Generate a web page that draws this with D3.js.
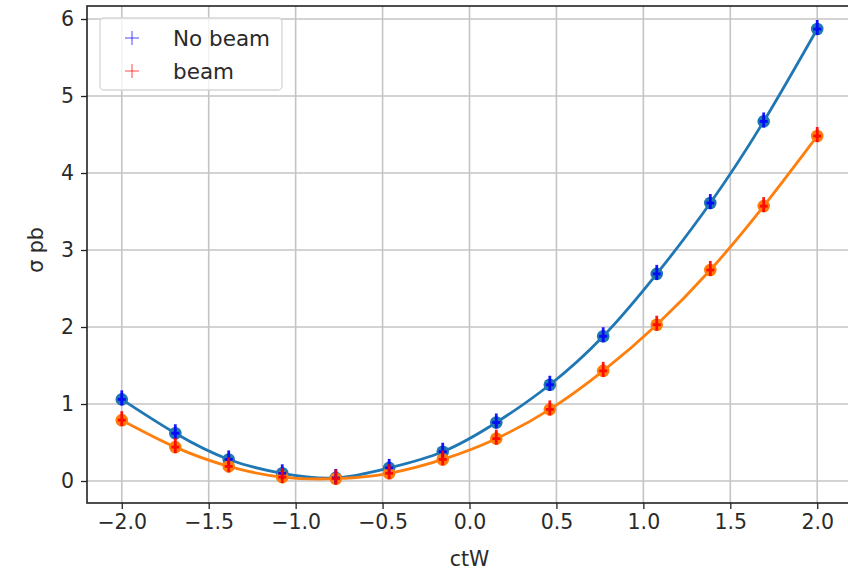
<!DOCTYPE html>
<html>
<head>
<meta charset="utf-8">
<script src="https://cdn.jsdelivr.net/npm/d3@7"></script>
<style>
  html, body { margin: 0; padding: 0; background: #fff; }
  svg { display: block; font-family: "DejaVu Sans", sans-serif; }
</style>
</head>
<body>
<svg id="chart" width="848" height="573"></svg>
<script>
// ctW scan points
const ctW = [-2.0, -1.692, -1.385, -1.077, -0.769, -0.462, -0.154, 0.154, 0.462, 0.769, 1.077, 1.385, 1.692, 2.0];
// cross sections (pb)
const noBeam = [1.06, 0.62, 0.28, 0.10, 0.04, 0.17, 0.38, 0.76, 1.25, 1.88, 2.69, 3.61, 4.67, 5.87];
const beam   = [0.79, 0.44, 0.19, 0.05, 0.03, 0.10, 0.28, 0.55, 0.93, 1.43, 2.03, 2.74, 3.57, 4.48];
const xTicks = [-2.0, -1.5, -1.0, -0.5, 0.0, 0.5, 1.0, 1.5, 2.0];
const yTicks = [0, 1, 2, 3, 4, 5, 6];
const seriesNames = ["No beam", "beam"];

const svg = d3.select("#chart");
const plotLeft = 87, plotRight = 852, plotTop = 6, plotBottom = 503;

const x = d3.scaleLinear().domain([-2.2, 2.2]).range([plotLeft, plotRight]);
const y = d3.scaleLinear().domain([-0.2857, 6.169]).range([plotBottom, plotTop]);

const gridColor = "#c4c4c4";
const fontSize = 20.5;
const textColor = "#2a2a2a";

// grid
const grid = svg.append("g");
grid.selectAll("line.gx").data(xTicks).join("line")
  .attr("x1", d => x(d)).attr("x2", d => x(d))
  .attr("y1", plotTop).attr("y2", plotBottom)
  .attr("stroke", gridColor).attr("stroke-width", 1.6);
grid.selectAll("line.gy").data(yTicks).join("line")
  .attr("y1", d => y(d)).attr("y2", d => y(d))
  .attr("x1", plotLeft).attr("x2", plotRight)
  .attr("stroke", gridColor).attr("stroke-width", 1.6);

// axes
const xAxis = svg.append("g")
  .attr("transform", `translate(0,${plotBottom})`)
  .call(d3.axisBottom(x).tickValues(xTicks).tickFormat(d3.format(".1f")).tickSize(6).tickPadding(5));
const yAxis = svg.append("g")
  .attr("transform", `translate(${plotLeft},0)`)
  .call(d3.axisLeft(y).tickValues(yTicks).tickFormat(d3.format("d")).tickSize(6).tickPadding(7));
[xAxis, yAxis].forEach(a => {
  a.select(".domain").remove();
  a.selectAll("line").attr("stroke", "#222").attr("stroke-width", 1.3);
  a.selectAll("text").attr("fill", textColor).style("font-size", fontSize + "px")
    .style("font-family", "'DejaVu Sans', sans-serif");
});

// spines
svg.append("rect")
  .attr("x", plotLeft).attr("y", plotTop)
  .attr("width", plotRight - plotLeft).attr("height", plotBottom - plotTop)
  .attr("fill", "none").attr("stroke", "#222").attr("stroke-width", 1.6);

// axis titles
svg.append("text")
  .attr("x", x(0)).attr("y", 566)
  .attr("text-anchor", "middle")
  .style("font-size", fontSize + "px").attr("fill", textColor)
  .text("ctW");
svg.append("text")
  .attr("transform", `translate(43,${y(3)}) rotate(-90)`)
  .attr("text-anchor", "middle")
  .style("font-size", fontSize + "px").attr("fill", textColor)
  .text("σ pb");

// curves and markers
const series = [
  { name: seriesNames[0], values: noBeam, line: "#1f77b4", mark: "#0000ff" },
  { name: seriesNames[1], values: beam,   line: "#ff7f0e", mark: "#ff0000" }
];

const lineGen = d3.line()
  .x(d => x(d[0])).y(d => y(d[1]))
  .curve(d3.curveNatural);

const plot = svg.append("g");
series.forEach(s => {
  const pts = ctW.map((c, i) => [c, s.values[i]]);
  plot.append("path")
    .datum(pts)
    .attr("d", lineGen)
    .attr("fill", "none")
    .attr("stroke", s.line)
    .attr("stroke-width", 2.8);
  plot.selectAll(null).data(pts).join("circle")
    .attr("cx", d => x(d[0])).attr("cy", d => y(d[1]))
    .attr("r", 6.3)
    .attr("fill", s.line);
});
series.forEach(s => {
  const pts = ctW.map((c, i) => [c, s.values[i]]);
  const g = plot.append("g").attr("stroke", s.mark).attr("stroke-width", 2.8).attr("opacity", 0.9);
  g.selectAll(null).data(pts).join("line")
    .attr("x1", d => x(d[0])).attr("x2", d => x(d[0]))
    .attr("y1", d => y(d[1]) - 9).attr("y2", d => y(d[1]) + 6);
  g.selectAll(null).data(pts).join("line")
    .attr("x1", d => x(d[0]) - 4).attr("x2", d => x(d[0]) + 4)
    .attr("y1", d => y(d[1])).attr("y2", d => y(d[1]));
});

// legend
const legend = svg.append("g");
legend.append("rect")
  .attr("x", 100).attr("y", 18).attr("width", 182).attr("height", 72)
  .attr("rx", 4)
  .attr("fill", "#fff").attr("fill-opacity", 0.8)
  .attr("stroke", "#d6d6d6").attr("stroke-width", 1.3);
series.forEach((s, i) => {
  const cy = 38 + i * 33;
  const cx = 132;
  const g = legend.append("g").attr("stroke", s.mark).attr("stroke-opacity", 0.4).attr("stroke-width", 1.8);
  g.append("line").attr("x1", cx).attr("x2", cx).attr("y1", cy - 7).attr("y2", cy + 7);
  g.append("line").attr("x1", cx - 7).attr("x2", cx + 7).attr("y1", cy).attr("y2", cy);
  legend.append("text")
    .attr("x", 173).attr("y", cy)
    .attr("dy", "0.35em")
    .style("font-size", "21.5px").attr("fill", textColor)
    .text(s.name);
});
</script>
</body>
</html>
